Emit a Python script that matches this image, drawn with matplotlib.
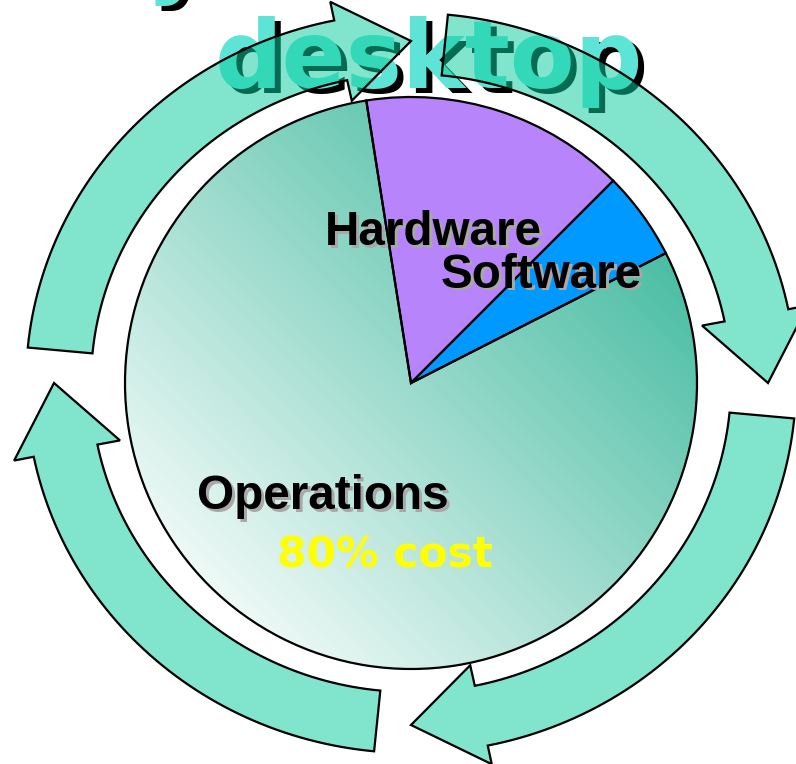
import matplotlib
matplotlib.use('Agg')
import matplotlib.pyplot as plt
import matplotlib.patches as patches
import numpy as np
from matplotlib.colors import LinearSegmentedColormap

# cost split of the desktop
segments = ['Hardware', 'Software', 'Operations']
shares = [15, 5, 80]
slice_colors = ['#b784fb', '#0099ff', 'none']
title_word = 'desktop'
cost_note = '80% cost'

W, H = 796, 764
fig = plt.figure(figsize=(W / 100, H / 100), dpi=100)
ax = fig.add_axes([0, 0, 1, 1])

cx, cy, R = 411, 381, 286

wedges, _ = ax.pie(shares, colors=slice_colors, startangle=99, counterclock=False,
                   center=(cx, cy), radius=R, frame=True,
                   wedgeprops=dict(edgecolor='black', linewidth=1.6, zorder=3))

# gradient fill for the operations slice
n = 400
g = np.linspace(-1, 1, n)
gx, gy = np.meshgrid(g, g)
t = np.clip(((gx + gy) / np.sqrt(2) + 1) / 2, 0, 1)
cmap = LinearSegmentedColormap.from_list('ops', ['#eef9f6', '#47bca2'])
im = ax.imshow(t, cmap=cmap, origin='lower', vmin=0, vmax=1,
               extent=(cx - R, cx + R, cy - R, cy + R), zorder=2, interpolation='bilinear')
im.set_clip_path(wedges[2])


def shadow_text(x, y, s, d, color, shadow, **kw):
    ax.text(x + d[0], y - d[1], s, color=shadow, **kw)
    ax.text(x, y, s, color=color, **kw)


# title behind the arrows
title_kw = dict(fontsize=68, fontweight='bold', family='DejaVu Sans', va='baseline', zorder=1)
shadow_text(429, H - 88, title_word, (6, 5), '#5ee3d7', 'black', ha='center', **title_kw)
shadow_text(146, H + 14, 'y', (6, 5), '#5ee3d7', 'black', ha='left', **title_kw)

label_kw = dict(fontsize=34.3, fontweight='bold', family='Liberation Sans', va='baseline', zorder=6)
shadow_text(325, H - 245, segments[0], (2.5, 2.5), 'black', '#a8a8a8', **label_kw)
shadow_text(441, H - 288, segments[1], (2.5, 2.5), 'black', '#a8a8a8', **label_kw)
shadow_text(197, H - 509, segments[2], (2.5, 2.5), 'black', '#a8a8a8', **label_kw)
ax.text(277, H - 567, cost_note, color='yellow', fontsize=30.5, fontweight='bold',
        family='DejaVu Sans', va='baseline', zorder=6)


# four curved arrows going round clockwise
def ell(theta, a, b):
    th = np.radians(theta)
    return np.column_stack([cx + a * np.cos(th), cy + b * np.sin(th)])


for tip in [90, 0, -90, -180]:
    tail, base = tip + 84.5, tip + 11.5
    arc = np.linspace(tail, base, 60)
    pts = np.vstack([
        ell(arc, 385, 370),
        ell([base], 405, 389),
        ell([tip], 357, 342),
        ell([base], 297, 288),
        ell(arc[::-1], 320, 309),
    ])
    ax.add_patch(patches.Polygon(pts, closed=True, facecolor=(12 / 255, 206 / 255, 158 / 255, 0.52),
                                 edgecolor='black', linewidth=1.6, joinstyle='miter', zorder=5))

ax.set_xlim(0, W)
ax.set_ylim(0, H)
ax.set_aspect('equal')
ax.axis('off')
fig.savefig('out.png', dpi=100)
